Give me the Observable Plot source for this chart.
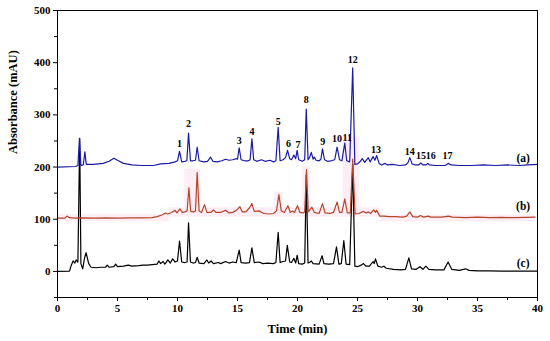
<!DOCTYPE html>
<html>
<head>
<meta charset="utf-8">
<script src="https://cdn.jsdelivr.net/npm/d3@7"></script>
<script src="https://cdn.jsdelivr.net/npm/@observablehq/plot@0.6"></script>
<style>
  html, body { margin: 0; padding: 0; background: #fff; }
  #chart { width: 550px; height: 341px; }
</style>
</head>
<body>
<div id="chart"></div>
<script>
// ---- Data (time in min, absorbance in mAU) ----
const traceA = [ // (a) blue
  [0,200],[1.5,201],[1.7,203],[1.83,255],[1.95,203],[2.15,204],[2.28,229],[2.4,205],[3.0,205],[3.8,207],[4.3,211],[4.7,217],[5.0,213],[5.5,207],[6.2,204],[7.0,203],[8.0,203],[8.6,206],[9.3,207],[9.8,210],[10.0,212],[10.17,230],[10.35,210],[10.6,211],[10.78,212],[10.92,265],[11.08,212],[11.3,212],[11.5,213],[11.64,238],[11.8,212],[12.2,210],[12.5,211],[12.75,219],[12.95,211],[13.3,210],[13.7,212],[14.0,215],[14.3,213],[14.6,214],[14.9,216],[15.0,215],[15.14,237],[15.3,214],[15.6,212],[15.9,212],[16.05,214],[16.2,254],[16.35,214],[16.6,211],[17.0,214],[17.3,211],[17.7,213],[18.0,210],[18.2,212],[18.39,276],[18.55,212],[18.8,214],[19.0,218],[19.17,232],[19.35,216],[19.5,214],[19.7,223],[19.85,216],[19.97,232],[20.1,214],[20.4,211],[20.6,214],[20.73,311],[20.88,214],[21.0,218],[21.15,228],[21.3,215],[21.4,219],[21.55,213],[21.8,212],[21.95,215],[22.08,235],[22.25,214],[22.5,211],[22.8,212],[23.1,214],[23.3,238],[23.5,214],[23.7,212],[23.94,246],[24.1,212],[24.35,210],[24.6,390],[24.78,205],[25.0,206],[25.2,210],[25.4,216],[25.6,209],[25.9,218],[26.05,210],[26.3,220],[26.45,213],[26.6,222],[26.8,207],[27.0,204],[27.3,207],[27.5,204],[27.9,205],[28.5,203],[29.0,204],[29.2,208],[29.36,218],[29.55,206],[29.8,204],[30.1,204],[30.28,208],[30.45,204],[30.7,204],[30.86,207],[31.0,204],[31.5,203],[32.3,203],[32.56,207],[32.8,204],[33.5,203],[34.5,203],[35.5,204],[36.5,203],[37.5,204],[38.5,203],[39.2,204],[40,205]
];
const traceB = [ // (b) red
  [0,102],[0.6,102],[0.8,106],[1.0,103],[1.5,102],[2,102.5],[3,102],[4,102.5],[5,102],[6,102.5],[7,102.5],[7.9,103],[8.3,105],[8.7,108],[9.0,112],[9.2,110],[9.5,113],[9.8,117],[9.95,112],[10.2,120],[10.4,113],[10.6,114],[10.8,116],[10.95,160],[11.1,115],[11.35,114],[11.5,116],[11.64,190],[11.8,116],[12.0,113],[12.25,128],[12.45,113],[12.8,113],[13.0,118],[13.2,113],[13.6,113],[14.0,117],[14.3,112],[14.6,113],[14.9,117],[15.2,124],[15.4,114],[15.7,114],[16.0,122],[16.2,130],[16.4,115],[16.8,116],[17.2,111],[17.6,110],[18.0,111],[18.25,116],[18.45,147],[18.65,116],[18.9,113],[19.2,126],[19.4,113],[19.6,116],[19.75,113],[20.0,126],[20.2,113],[20.45,112],[20.6,114],[20.75,195],[20.9,114],[21.2,123],[21.4,113],[21.8,111],[22.08,130],[22.3,112],[22.7,111],[23.0,113],[23.3,133],[23.5,113],[23.7,113],[23.94,139],[24.15,112],[24.4,112],[24.6,215],[24.8,110],[25.1,111],[25.5,115],[25.7,112],[25.9,114],[26.1,111],[26.35,118],[26.5,113],[26.6,117],[26.85,106],[27.2,106],[27.6,105],[28.2,105],[28.8,104],[29.1,106],[29.36,114],[29.6,105],[30.0,104],[30.25,107],[30.5,104],[30.9,106],[31.1,104],[32.0,104],[32.6,106],[32.9,104],[34,103],[35,104],[36,103],[37,103.5],[38,103],[39,103.5],[39.8,104]
];
const traceC = [ // (c) black
  [0,0],[1.0,0.5],[1.15,12],[1.3,20],[1.45,16],[1.55,22],[1.7,18],[1.85,255],[1.95,15],[2.1,5],[2.25,25],[2.38,36],[2.6,15],[2.8,8],[3.2,7],[3.6,8],[4.0,8],[4.15,12],[4.3,8],[4.7,9],[4.85,14],[5.0,9],[5.5,10],[5.9,12],[6.2,10],[6.8,11],[7.1,12],[7.5,12],[7.9,13],[8.3,14],[8.45,20],[8.6,15],[8.8,19],[8.95,14],[9.2,22],[9.4,16],[9.6,24],[9.8,18],[10.0,20],[10.17,58],[10.35,18],[10.6,17],[10.8,18],[10.92,93],[11.08,18],[11.3,16],[11.5,17],[11.64,27],[11.8,16],[12.2,15],[12.45,22],[12.6,16],[12.8,20],[13.0,15],[13.4,17],[13.6,15],[14.0,19],[14.3,16],[14.6,18],[14.9,17],[15.14,41],[15.3,17],[15.7,16],[16.0,17],[16.2,45],[16.4,17],[16.8,18],[17.1,15],[17.5,16],[18.0,15],[18.2,17],[18.39,75],[18.55,17],[18.8,19],[19.0,20],[19.15,50],[19.35,18],[19.5,17],[19.7,25],[19.85,16],[19.97,31],[20.1,15],[20.4,14],[20.6,16],[20.73,185],[20.88,16],[21.0,17],[21.15,20],[21.3,15],[21.8,14],[22.05,30],[22.2,15],[22.6,14],[23.0,15],[23.25,47],[23.45,14],[23.65,15],[23.86,59],[24.05,14],[24.35,13],[24.6,205],[24.78,10],[25.0,9],[25.3,12],[25.5,15],[25.7,10],[26.0,10],[26.3,19],[26.4,15],[26.5,24],[26.7,10],[27.0,8],[27.2,10],[27.4,6],[28.0,4],[28.6,3],[29.0,4],[29.28,26],[29.5,5],[29.9,4],[30.2,9],[30.45,4],[30.7,10],[30.95,4],[31.5,3],[32.2,3],[32.55,18],[32.85,4],[33.5,2],[34.0,5],[34.3,2],[35,1],[36,1],[37,0.5],[38,0.5],[39,0.5],[40,0.5]
];

// Peak numbers above trace (a): label, time, height of label
const peakNames = ["1","2","3","4","5","6","7","8","9","10","11","12","13","14","15","16","17"];
const peakTimes = [10.17,10.92,15.14,16.2,18.39,19.25,20.05,20.73,22.1,23.3,24.15,24.6,26.55,29.36,30.3,31.1,32.5];
const peakLabelY = [245,282,251,268,287,245,243,328,249,255,257,406,234,230,222,222,222];

// Trace identifiers
const traceNames = ["(a)","(b)","(c)"];
const traceLabelT = [38.8,38.8,38.8];
const traceLabelY = [216,124,15];

// Pink highlight patches (as in the reference)
const hlX1 = [0, 9.3, 26.9, 10.6, 18.1, 20.4, 23.8];
const hlX2 = [9.3, 26.9, 39.8, 11.95, 18.8, 21.1, 25.2];
const hlY1 = [95, 104, 95, 118, 118, 118, 118];
const hlY2 = [109, 122, 108, 196, 152, 200, 258];

// Axis ticks
const xTicks = [0,5,10,15,20,25,30,35,40];
const xMinor = [2.5,7.5,12.5,17.5,22.5,27.5,32.5,37.5];
const yTicks = [0,100,200,300,400,500];
const yMinor = [-50,50,150,250,350,450];

const xLabel = "Time (min)";
const yLabel = "Absorbance (mAU)";

// ---- Build tables ----
const toRows = arr => arr.map(([t, v]) => ({t, v}));
const peaks = peakNames.map((name, i) => ({name, t: peakTimes[i], v: peakLabelY[i]}));
const tlabels = traceNames.map((name, i) => ({name, t: traceLabelT[i], v: traceLabelY[i]}));
const highlights = hlX1.map((x1, i) => ({x1, x2: hlX2[i], y1: hlY1[i], y2: hlY2[i]}));

const font = "'Liberation Serif', 'Times New Roman', serif";

const chart = Plot.plot({
  width: 550,
  height: 341,
  marginTop: 10,
  marginRight: 13,
  marginBottom: 44,
  marginLeft: 57,
  style: {fontFamily: font, fontSize: "11px", fontWeight: "bold", background: "#fff", color: "#000"},
  x: {domain: [0, 40]},
  y: {domain: [-50, 500]},
  marks: [
    Plot.rect(highlights, {x1: "x1", x2: "x2", y1: "y1", y2: "y2", fill: "#fde9f2", fillOpacity: 0.8}),
    Plot.line(toRows(traceC), {x: "t", y: "v", stroke: "#000000", strokeWidth: 1.2}),
    Plot.line(toRows(traceB), {x: "t", y: "v", stroke: "#b5452b", strokeWidth: 1.2}),
    Plot.line(toRows(traceA), {x: "t", y: "v", stroke: "#1a1aa8", strokeWidth: 1.2}),
    Plot.text(peaks, {x: "t", y: "v", text: "name", fontSize: 10, fontWeight: "bold", fill: "#000"}),
    Plot.text(tlabels, {x: "t", y: "v", text: "name", fontSize: 11.5, fontWeight: "bold", fill: "#000"}),
    Plot.axisX({ticks: xTicks, tickSize: 4, tickPadding: 3, label: null, fontSize: 11}),
    Plot.axisX({ticks: xMinor, tickSize: 3, tickFormat: () => "", label: null}),
    Plot.axisY({ticks: yTicks, tickSize: 4, tickPadding: 3, label: null, fontSize: 11}),
    Plot.axisY({ticks: yMinor, tickSize: 3, tickFormat: () => "", label: null}),
    Plot.frame({stroke: "#000", strokeWidth: 1}),
    Plot.text([xLabel], {frameAnchor: "bottom", dy: 35, fontSize: 12.5, fontWeight: "bold", fill: "#000"}),
    Plot.text([yLabel], {frameAnchor: "left", dx: -45, rotate: -90, fontSize: 12.5, fontWeight: "bold", fill: "#000"})
  ]
});
document.getElementById("chart").appendChild(chart);
</script>
</body>
</html>
